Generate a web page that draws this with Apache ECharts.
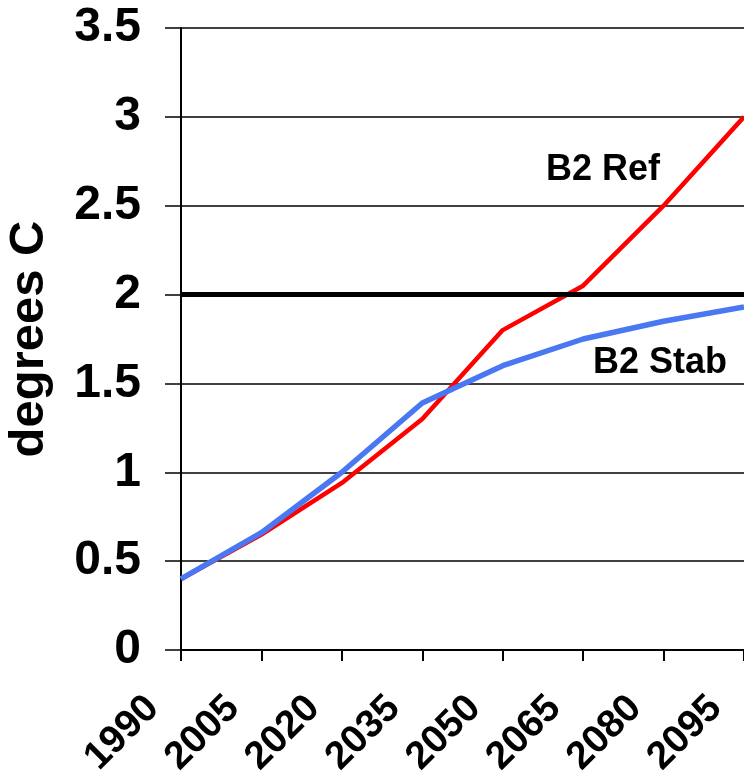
<!DOCTYPE html>
<html>
<head>
<meta charset="utf-8">
<script src="https://cdn.jsdelivr.net/npm/echarts@6/dist/echarts.min.js"></script>
<style>
html,body{margin:0;padding:0;background:#fff;}
#chart{width:744px;height:773px;}
</style>
</head>
<body>
<div id="chart"></div>
<script>
var years = ['1990','2005','2020','2035','2050','2065','2080','2095'];
var b2Ref = [0.40, 0.65, 0.94, 1.30, 1.80, 2.05, 2.50, 3.00];
var b2Stab = [0.40, 0.66, 1.00, 1.39, 1.60, 1.75, 1.85, 1.93];
var threshold = 2;
var yTicks = [0, 0.5, 1, 1.5, 2, 2.5, 3, 3.5];

var FONT = 'Liberation Sans, Arial, Helvetica, sans-serif';
var chart = echarts.init(document.getElementById('chart'));
chart.setOption({
  animation: false,
  backgroundColor: '#fff',
  grid: {left: 181, right: 0, top: 28, bottom: 123, containLabel: false, outerBoundsMode: 'none'},
  xAxis: {
    type: 'category',
    data: years,
    boundaryGap: false,
    axisLine: {lineStyle: {color: '#000', width: 2}},
    axisTick: {show: true, length: 11, alignWithLabel: true, lineStyle: {color: '#000', width: 2}},
    axisLabel: {rotate: 45, margin: 24, padding: [0, 40, 0, 0], color: '#000', fontSize: 39, fontWeight: 'bold', fontFamily: FONT, interval: 0, hideOverlap: false},
    splitLine: {show: false}
  },
  yAxis: {
    type: 'value',
    min: 0, max: 3.5, interval: 0.5,
    name: 'degrees C',
    nameLocation: 'middle',
    nameRotate: 90,
    nameGap: 127,
    nameTextStyle: {color: '#000', fontSize: 49, fontWeight: 'bold', fontFamily: FONT},
    axisLine: {show: true, lineStyle: {color: '#000', width: 2}},
    axisTick: {show: true, length: 16, lineStyle: {color: '#000', width: 1.5}},
    axisLabel: {
      margin: 40, color: '#000', fontSize: 48, fontWeight: 'bold', fontFamily: FONT,
      formatter: function (v) { return yTicks.indexOf(v) >= 0 ? String(v) : ''; }
    },
    splitLine: {show: true, lineStyle: {color: '#000', width: 1.5}}
  },
  series: [
    {
      name: 'B2 Ref',
      type: 'line',
      data: b2Ref,
      showSymbol: false,
      symbol: 'none',
      lineStyle: {color: '#ff0000', width: 4.5},
      markLine: {
        silent: true,
        symbol: 'none',
        label: {show: false},
        lineStyle: {color: '#000', width: 5, type: 'solid'},
        data: [{yAxis: threshold}]
      },
      z: 3
    },
    {
      name: 'B2 Stab',
      type: 'line',
      data: b2Stab,
      showSymbol: false,
      symbol: 'none',
      lineStyle: {color: '#4a78f2', width: 5.5},
      z: 4
    }
  ],
  graphic: [
    {type: 'text', left: 546, top: 152, style: {text: 'B2 Ref', fill: '#000', font: 'bold 36px ' + FONT}},
    {type: 'text', left: 593, top: 345, style: {text: 'B2 Stab', fill: '#000', font: 'bold 36px ' + FONT}}
  ]
});
</script>
</body>
</html>
